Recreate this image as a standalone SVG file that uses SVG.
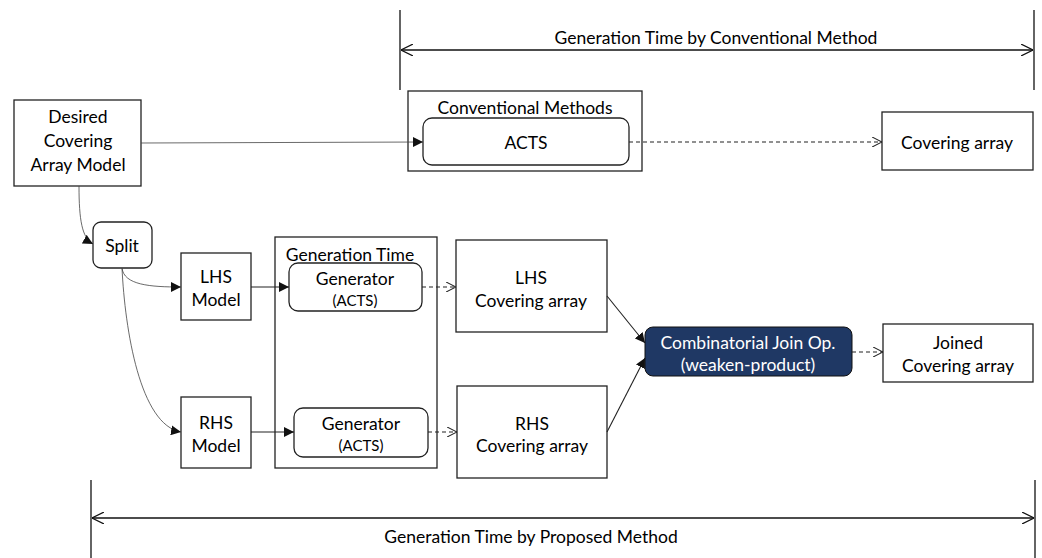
<svg xmlns="http://www.w3.org/2000/svg" width="1042" height="558" viewBox="0 0 1042 558">
<defs>
<style>
.box{fill:#fff;stroke:#222;stroke-width:1.3}
.t{font-family:Lato,"Liberation Sans",sans-serif;font-size:17.5px;fill:#000;text-anchor:middle;dominant-baseline:central}
.s{font-size:15px}
.w{fill:#fff}
.ln{fill:none;stroke:#222;stroke-width:1.1}
.th{fill:none;stroke:#444;stroke-width:0.8}
.ds{fill:none;stroke:#222;stroke-width:1.1;stroke-dasharray:4 3}
.dim{fill:none;stroke:#111;stroke-width:1.3}
</style>
<marker id="fa" viewBox="0 0 10 10" refX="10" refY="5" markerWidth="10" markerHeight="10" markerUnits="userSpaceOnUse" orient="auto"><path d="M0,0 L10,5 L0,10 z" fill="#111"/></marker>
<marker id="oa" viewBox="0 0 10 10" refX="10" refY="5" markerWidth="10" markerHeight="10" markerUnits="userSpaceOnUse" orient="auto"><path d="M0,0 L10,5 L0,10" fill="none" stroke="#222" stroke-width="1.1"/></marker>
<marker id="da" viewBox="0 0 12 12" refX="12" refY="6" markerWidth="12" markerHeight="12" markerUnits="userSpaceOnUse" orient="auto-start-reverse"><path d="M0,0 L12,6 L0,12" fill="none" stroke="#111" stroke-width="1.2"/></marker>
</defs>

<g id="dim-conventional">
<line class="dim" x1="400" y1="10" x2="400" y2="90"/>
<line class="dim" x1="1034" y1="10" x2="1034" y2="90"/>
<line class="dim" x1="401" y1="50" x2="1033" y2="50" marker-start="url(#da)" marker-end="url(#da)"/>
<text class="t" x="716" y="37" font-size="17">Generation Time by Conventional Method</text>
</g>

<g id="dim-proposed">
<line class="dim" x1="91" y1="480" x2="91" y2="558"/>
<line class="dim" x1="1035" y1="480" x2="1035" y2="558"/>
<line class="dim" x1="92" y1="518" x2="1034" y2="518" marker-start="url(#da)" marker-end="url(#da)"/>
<text class="t" x="531" y="536" font-size="17">Generation Time by Proposed Method</text>
</g>

<g id="desired">
<rect class="box" x="14" y="100" width="127" height="86"/>
<text class="t" x="78" y="116">Desired</text>
<text class="t" x="78" y="140">Covering</text>
<text class="t" x="78" y="164">Array Model</text>
</g>

<g id="conventional-methods">
<rect class="box" x="408" y="91" width="234" height="80"/>
<text class="t" x="525" y="107">Conventional Methods</text>
</g>
<g id="acts">
<rect class="box" x="423" y="118" width="206" height="47" rx="9"/>
<text class="t" x="526" y="142">ACTS</text>
</g>
<g id="covering-array">
<rect class="box" x="882" y="112" width="151" height="58"/>
<text class="t" x="957" y="142">Covering array</text>
</g>

<g id="split">
<rect class="box" x="93" y="222" width="59" height="46" rx="8"/>
<text class="t" x="122" y="245">Split</text>
</g>

<g id="lhs-model">
<rect class="box" x="181" y="253" width="70" height="67"/>
<text class="t" x="216" y="276">LHS</text>
<text class="t" x="216" y="299">Model</text>
</g>
<g id="rhs-model">
<rect class="box" x="181" y="397" width="70" height="71"/>
<text class="t" x="216" y="422">RHS</text>
<text class="t" x="216" y="445">Model</text>
</g>

<g id="generation-time">
<rect class="box" x="275" y="237" width="162" height="231"/>
<text class="t" x="350" y="254">Generation Time</text>
</g>
<g id="generator-lhs">
<rect class="box" x="289" y="263" width="133" height="48" rx="9"/>
<text class="t" x="355" y="278">Generator</text>
<text class="t s" x="355" y="300">(ACTS)</text>
</g>
<g id="generator-rhs">
<rect class="box" x="294" y="408" width="134" height="49" rx="9"/>
<text class="t" x="361" y="423">Generator</text>
<text class="t s" x="361" y="445">(ACTS)</text>
</g>

<g id="lhs-ca">
<rect class="box" x="456" y="240" width="151" height="92"/>
<text class="t" x="531" y="277">LHS</text>
<text class="t" x="531" y="300">Covering array</text>
</g>
<g id="rhs-ca">
<rect class="box" x="457" y="386" width="150" height="92"/>
<text class="t" x="532" y="423">RHS</text>
<text class="t" x="532" y="445">Covering array</text>
</g>

<g id="join">
<rect x="645" y="327" width="207" height="49" rx="8" fill="#1f3864" stroke="#111" stroke-width="1"/>
<text class="t w" x="748" y="342">Combinatorial Join Op.</text>
<text class="t w" x="748" y="364" font-size="16">(weaken-product)</text>
</g>
<g id="joined-ca">
<rect class="box" x="883" y="324" width="150" height="58"/>
<text class="t" x="958" y="342">Joined</text>
<text class="t" x="958" y="365">Covering array</text>
</g>

<g id="connectors">
<path class="th" d="M141,143 L423,142" marker-end="url(#fa)"/>
<path class="ds" d="M629,142 L882,142" marker-end="url(#oa)"/>
<path class="th" d="M79,186 C79,220 82,238 93,244" marker-end="url(#fa)"/>
<path class="th" d="M122,268 C124,285 150,287 181,287" marker-end="url(#fa)"/>
<path class="th" d="M122,268 C125,330 140,425 181,432" marker-end="url(#fa)"/>
<path class="ln" d="M251,287 L289,287" marker-end="url(#fa)"/>
<path class="ln" d="M251,432 L294,432" marker-end="url(#fa)"/>
<path class="ds" d="M422,287 L456,287" marker-end="url(#oa)"/>
<path class="ds" d="M428,432 L457,432" marker-end="url(#oa)"/>
<path class="ln" d="M607,296 L645,343" marker-end="url(#fa)"/>
<path class="ln" d="M607,432 L645,358" marker-end="url(#fa)"/>
<path class="ds" d="M852,352 L883,352" marker-end="url(#oa)"/>
</g>
</svg>
